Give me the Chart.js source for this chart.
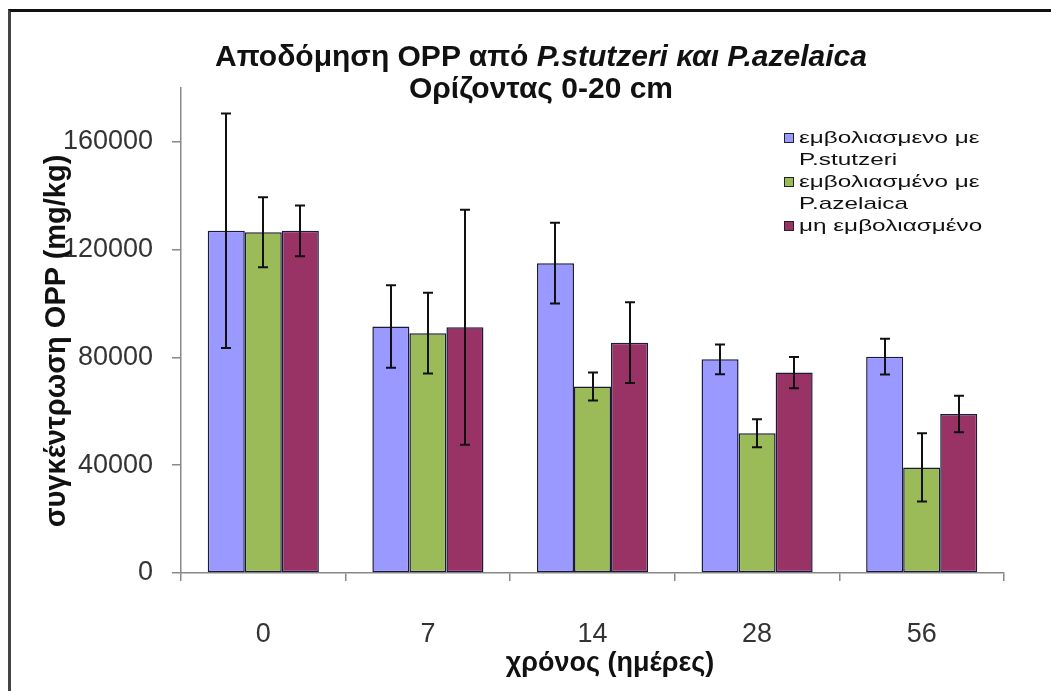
<!DOCTYPE html>
<html>
<head>
<meta charset="utf-8">
<script src="https://cdn.jsdelivr.net/npm/chart.js@4/dist/chart.umd.min.js"></script>
<style>
  body { margin: 0; background: #fff; font-family: "Liberation Sans", Arial, sans-serif; }
  #wrap { position: relative; width: 1051px; height: 691px; overflow: hidden; }
  #frame { position: absolute; left: 8px; top: 9px; right: -4px; bottom: -4px;
           border-top: 3px solid #111; border-left: 3px solid #444; }
  #chart { position: absolute; left: 0; top: 0; }
  #title { position: absolute; left: 141px; width: 800px; top: 40px; text-align: center;
           font-weight: bold; font-size: 30px; line-height: 32px; color: #111; }
  #xtitle { position: absolute; left: 410px; width: 400px; top: 646px; text-align: center;
            font-weight: bold; font-size: 27px; line-height: 32px; color: #111; }
  #ytitle { position: absolute; left: -195px; top: 324px; width: 500px; height: 34px; text-align: center;
            font-weight: bold; font-size: 29px; line-height: 34px; color: #111; transform: rotate(-90deg); }
  #legend { position: absolute; left: 784px; top: 127px; font-size: 17px; color: #111; line-height: 22px; }
  #legend .item { display: flex; align-items: flex-start; }
  #legend .box { width: 8px; height: 8px; border: 1.5px solid #222; margin: 6px 5px 0 0; flex-shrink: 0; }
  #legend .txt { transform: scaleX(1.43); transform-origin: left center; white-space: nowrap; }
</style>
</head>
<body>
<div id="wrap">
  <div id="frame"></div>
  <canvas id="chart" width="1051" height="691"></canvas>
  <div id="title">Αποδόμηση OPP από <i>P.stutzeri και P.azelaica</i><br>Ορίζοντας 0-20 cm</div>
  <div id="xtitle">χρόνος (ημέρες)</div>
  <div id="ytitle">συγκέντρωση OPP (mg/kg)</div>
  <div id="legend"></div>
</div>
<script>
// --- data ---
const days = ['0', '7', '14', '28', '56'];
const seriesNames = [['εμβολιασμενο με', 'P.stutzeri'], ['εμβολιασμένο με', 'P.azelaica'], ['μη εμβολιασμένο']];
const stutzeri    = [127000, 91500, 115000, 79300, 80300];
const stutzeriErr = [43500, 15300, 15000, 5500, 6600];
const azelaica    = [126500, 89000, 69200, 51900, 39200];
const azelaicaErr = [13000, 15000, 5200, 5200, 12700];
const control     = [127000, 91200, 85500, 74400, 59000];
const controlErr  = [9400, 43600, 15000, 5800, 6800];
const yTicks      = [0, 40000, 80000, 120000, 160000];

const colors = ['#9999FF', '#9BBB59', '#993366'];
const errors = [stutzeriErr, azelaicaErr, controlErr];

// error bars drawn from the dataset's bar positions and the y scale
const errorBars = {
  id: 'errorBars',
  afterDatasetsDraw(chart) {
    const ctx = chart.ctx;
    const y = chart.scales.y;
    ctx.save();
    ctx.strokeStyle = '#111';
    ctx.lineWidth = 2;
    chart.data.datasets.forEach((ds, i) => {
      const meta = chart.getDatasetMeta(i);
      meta.data.forEach((bar, j) => {
        const e = errors[i][j];
        const top = y.getPixelForValue(ds.data[j] + e);
        const bot = y.getPixelForValue(ds.data[j] - e);
        const x = Math.round(bar.x);
        ctx.beginPath();
        ctx.moveTo(x, top); ctx.lineTo(x, bot);
        ctx.moveTo(x - 5, top); ctx.lineTo(x + 5, top);
        ctx.moveTo(x - 5, bot); ctx.lineTo(x + 5, bot);
        ctx.stroke();
      });
    });
    ctx.restore();
  }
};

const font = 'Liberation Sans, Arial, sans-serif';

const chart = new Chart(document.getElementById('chart'), {
  type: 'bar',
  data: {
    labels: days,
    datasets: [stutzeri, azelaica, control].map((d, i) => ({
      label: seriesNames[i].join(' '),
      data: d,
      backgroundColor: colors[i],
      borderColor: '#1a1a3a',
      borderWidth: 1.5,
      borderSkipped: false,
      barPercentage: 1,
      categoryPercentage: 0.675
    }))
  },
  options: {
    responsive: false,
    animation: false,
    layout: { padding: { left: 10, right: 47, top: 88, bottom: 15 } },
    plugins: { legend: { display: false }, tooltip: { enabled: false } },
    scales: {
      x: {
        grid: { display: true, offset: true, drawOnChartArea: false, tickLength: 8, color: '#888', lineWidth: 1.5 },
        border: { color: '#888', width: 1.5 },
        ticks: { color: '#333', padding: 37, font: { family: font, size: 27 } },
        afterFit(scale) { scale.height = 103; }
      },
      y: {
        min: 0, max: 180000,
        grid: { display: true, drawOnChartArea: false, tickLength: 9, color: '#888', lineWidth: 1.5 },
        border: { color: '#888', width: 1.5 },
        afterBuildTicks(scale) { scale.ticks = yTicks.map(v => ({ value: v })); },
        ticks: { color: '#333', padding: 19, font: { family: font, size: 27 }, callback: v => String(v) },
        afterFit(scale) { scale.width = 171; }
      }
    }
  },
  plugins: [errorBars]
});

// custom legend
document.getElementById('legend').innerHTML = seriesNames.map((lines, i) => `
  <div class="item"><div class="box" style="background:${colors[i]}"></div><div class="txt">${lines.join('<br>')}</div></div>`).join('');
</script>
</body>
</html>
